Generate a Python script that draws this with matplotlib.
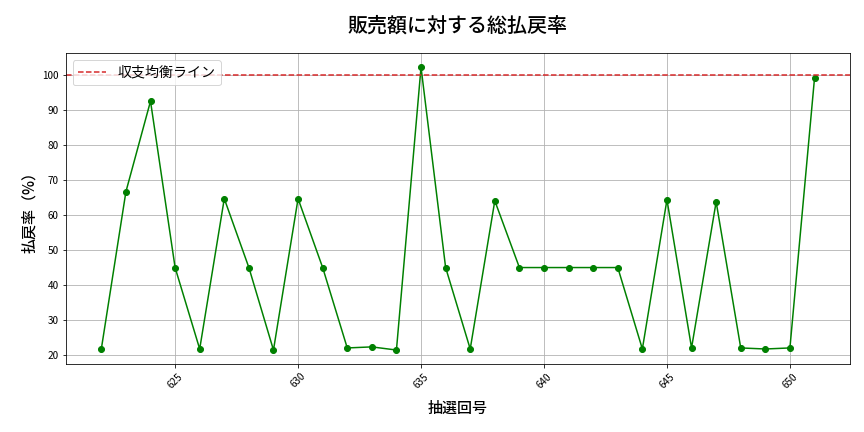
import matplotlib
matplotlib.use("Agg")
from matplotlib import pyplot as plt

plt.rcParams['font.family'] = ['Noto Sans CJK JP', 'DejaVu Sans']

# 抽選回号と総払戻率(%)
draws = list(range(622, 652))
payout_rate = [21.7, 66.7, 92.6, 45.0, 21.7, 64.7, 45.0, 21.4, 64.7, 45.0,
               22.0, 22.3, 21.4, 102.3, 45.0, 21.7, 64.1, 45.0, 45.0, 45.0,
               45.0, 45.0, 21.7, 64.4, 22.0, 63.8, 22.0, 21.7, 22.0, 99.2]
break_even = 100

fig, ax = plt.subplots(figsize=(12, 6), dpi=72)
fig.subplots_adjust(left=0.076, right=0.984, top=0.877, bottom=0.157)

ax.plot(draws, payout_rate, marker='o', color='green', linewidth=1.5, markersize=6)
ax.axhline(y=break_even, color='#d62728', linestyle='--', linewidth=1.5, label='収支均衡ライン')

ax.set_title('販売額に対する総払戻率', fontsize=20, pad=22, fontweight='medium')
ax.set_xlabel('抽選回号', fontsize=15, labelpad=10, fontweight='medium')
ax.set_ylabel('払戻率（%）', fontsize=15, fontweight='medium')
ax.grid(True)
ax.legend(loc='upper left', fontsize=14)
ax.tick_params(axis='x', labelrotation=45, labelsize=10)
ax.tick_params(axis='y', labelsize=10)

fig.savefig('out.png')
